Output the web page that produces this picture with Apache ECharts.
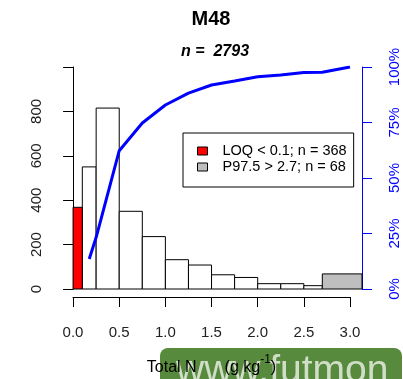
<!DOCTYPE html>
<html>
<head>
<meta charset="utf-8">
<script src="https://cdn.jsdelivr.net/npm/echarts@6/dist/echarts.min.js"></script>
<style>
  html, body { margin: 0; padding: 0; background: #fff; }
  #main { width: 403px; height: 379px; }
</style>
</head>
<body>
<div id="main"></div>
<script>
// histogram bins (g kg-1) and counts
const binStart = [0.0, 0.1, 0.25, 0.5, 0.75, 1.0, 1.25, 1.5, 1.75, 2.0, 2.25, 2.5, 2.7]
const binEnd = [0.1, 0.25, 0.5, 0.75, 1.0, 1.25, 1.5, 1.75, 2.0, 2.25, 2.5, 2.7, 3.13]
const counts = [368, 550, 815, 350, 236, 132, 108, 64, 52, 24, 24, 15, 68]
// bar kind: 0 = normal, 1 = LOQ, 2 = P97.5
const binKind = [1, 0, 0, 0, 0, 0, 0, 0, 0, 0, 0, 0, 2]

// cumulative curve (%)
const cumX = [0.175, 0.25, 0.5, 0.75, 1.0, 1.25, 1.5, 1.75, 2.0, 2.25, 2.5, 2.7, 3.0]
const cumPct = [13.5, 23.3, 62.3, 74.8, 82.9, 88.2, 91.9, 93.7, 95.6, 96.4, 97.5, 97.6, 100]

const countTicks = [0, 200, 400, 600, 800]
const legendNames = ['LOQ < 0.1; n = 368', 'P97.5 > 2.7; n = 68']

const fills = ['#ffffff', '#ff0000', '#bebebe']

const barData = kind => binStart.map((s, i) => [s, binEnd[i], counts[i], binKind[i]])
	.filter(d => d[3] === kind)

const barSeries = (name, kind) => ({
	name,
	type: 'custom',
	xAxisIndex: 0,
	yAxisIndex: 0,
	encode: { x: [0, 1], y: 2 },
	data: barData(kind),
	renderItem: (params, api) => {
		const p0 = api.coord([api.value(0), api.value(2)])
		const p1 = api.coord([api.value(1), 0])
		return {
			type: 'rect',
			shape: { x: p0[0], y: p0[1], width: p1[0] - p0[0], height: p1[1] - p0[1] },
			style: { fill: fills[kind], stroke: '#000', lineWidth: 1 }
		}
	},
	z: 2
})

const chart = echarts.init(document.getElementById('main'), null, { renderer: 'canvas' })

chart.setOption({
	animation: false,
	textStyle: { fontFamily: 'Liberation Sans, Arial, sans-serif' },
	title: [{
		text: 'M48',
		left: 211,
		top: 9,
		textAlign: 'center',
		padding: 0,
		textStyle: { fontSize: 20, fontWeight: 'bold', color: '#000' }
	}, {
		text: 'n =  2793',
		left: 215,
		top: 44,
		textAlign: 'center',
		padding: 0,
		textStyle: { fontSize: 16, fontWeight: 'bold', fontStyle: 'italic', color: '#000' }
	}],
	legend: {
		orient: 'vertical',
		left: 183,
		top: 133,
		padding: [10, 7, 12, 14],
		itemGap: 0,
		itemWidth: 10,
		itemHeight: 8,
		borderColor: '#000',
		borderWidth: 1,
		selectedMode: false,
		textStyle: { fontSize: 14.5, color: '#000', lineHeight: 16, padding: [0, 0, 0, 10] },
		data: [
			{ name: legendNames[0], icon: 'rect', itemStyle: { color: '#ff0000', borderColor: '#000', borderWidth: 1 } },
			{ name: legendNames[1], icon: 'rect', itemStyle: { color: '#bebebe', borderColor: '#000', borderWidth: 1 } }
		]
	},
	grid: [
		{ left: 62, right: 41, top: 67, bottom: 90 },
		{ left: 73, right: 53, top: 296, height: 1 }
	],
	xAxis: [{
		gridIndex: 0,
		type: 'value',
		min: -0.12,
		max: 3.13,
		show: false
	}, {
		gridIndex: 1,
		type: 'value',
		min: 0,
		max: 3,
		interval: 0.5,
		position: 'bottom',
		splitLine: { show: false },
		axisLine: { show: true, lineStyle: { color: '#000', width: 1 } },
		axisTick: { show: true, length: 10, lineStyle: { color: '#000' } },
		axisLabel: { fontSize: 15, color: '#222', margin: 28, formatter: v => v.toFixed(1) },
		name: '{a|Total N}{g|}{a|(g kg}{s|-1}{a|)}',
		nameLocation: 'middle',
		nameGap: 57,
		nameTextStyle: {
			rich: {
				a: { fontSize: 16, color: '#000', lineHeight: 22, verticalAlign: 'bottom' },
				g: { width: 28 },
				s: { fontSize: 12, color: '#000', lineHeight: 12, verticalAlign: 'top' }
			}
		}
	}],
	yAxis: [{
		gridIndex: 0,
		type: 'value',
		min: 0,
		max: 1000,
		interval: 200,
		splitLine: { show: false },
		axisLine: { show: true, lineStyle: { color: '#000', width: 1 } },
		axisTick: { show: true, length: 10, lineStyle: { color: '#000' } },
		axisLabel: {
			fontSize: 15, color: '#222', rotate: 90, margin: 18,
			formatter: v => countTicks.indexOf(v) >= 0 ? String(v) : ''
		}
	}, {
		gridIndex: 0,
		type: 'value',
		position: 'right',
		min: 0,
		max: 100,
		interval: 25,
		splitLine: { show: false },
		axisLine: { show: true, lineStyle: { color: '#0000ff', width: 1 } },
		axisTick: { show: true, length: 10, lineStyle: { color: '#0000ff' } },
		axisLabel: { fontSize: 15, color: '#0000ff', rotate: 90, margin: 25, formatter: v => v + '%' }
	}, {
		gridIndex: 1,
		type: 'value',
		min: 0,
		max: 1,
		show: false
	}],
	graphic: [{
		type: 'rect',
		z: -1,
		shape: { x: 160, y: 348, width: 242, height: 45, r: 8 },
		style: { fill: '#578a3c' }
	}, {
		type: 'text',
		z: -1,
		x: 176,
		y: 391,
		style: {
			text: 'www.futmon',
			font: '39px Liberation Sans, Arial, sans-serif',
			fill: 'rgba(255,255,255,0.72)',
			verticalAlign: 'bottom'
		}
	}],
	series: [
		barSeries('normal', 0),
		barSeries(legendNames[0], 1),
		barSeries(legendNames[1], 2),
		{
			name: 'cumulative',
			type: 'line',
			xAxisIndex: 0,
			yAxisIndex: 1,
			data: cumX.map((x, i) => [x, cumPct[i]]),
			showSymbol: false,
			symbol: 'none',
			lineStyle: { color: '#0000ff', width: 3 },
			z: 3
		}
	]
})
</script>
</body>
</html>
